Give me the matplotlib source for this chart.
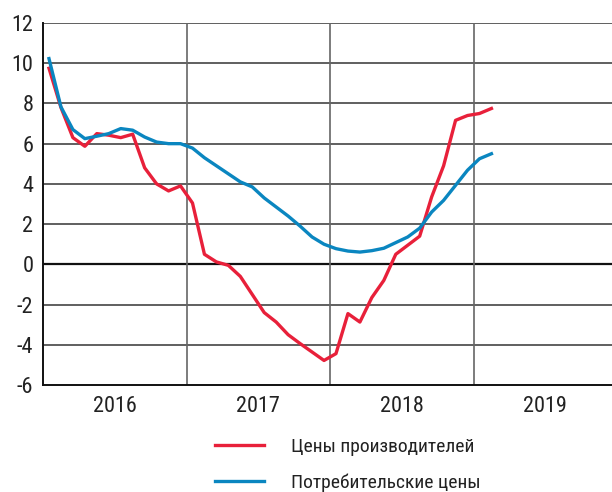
import numpy as np
import matplotlib
matplotlib.use('Agg')
import matplotlib.pyplot as plt
from matplotlib import font_manager

# monthly data, Jan 2016 .. Feb 2019
producer = [9.75, 7.8, 6.3, 5.87, 6.5, 6.42, 6.3, 6.47, 4.8, 4.0, 3.65, 3.9,
            3.05, 0.5, 0.12, -0.05, -0.6, -1.5, -2.4, -2.87, -3.5, -3.94, -4.36, -4.78,
            -4.44, -2.45, -2.87, -1.65, -0.8, 0.5, 0.95, 1.4, 3.35, 4.9, 7.16, 7.4,
            7.5, 7.75]
consumer = [10.23, 7.83, 6.7, 6.25, 6.37, 6.5, 6.75, 6.67, 6.33, 6.08, 6.0, 6.0,
            5.78, 5.3, 4.9, 4.5, 4.1, 3.85, 3.3, 2.85, 2.4, 1.9, 1.36, 1.0,
            0.78, 0.66, 0.61, 0.68, 0.8, 1.08, 1.36, 1.8, 2.6, 3.18, 3.93, 4.68,
            5.25, 5.5]
years = [2016, 2017, 2018, 2019]
labels = ['Цены производителей', 'Потребительские цены']

names = {f.name for f in font_manager.fontManager.ttflist}
fam = 'Liberation Sans'
for cand in ['Liberation Sans Narrow', 'DejaVu Sans Condensed', 'Roboto Condensed']:
    if cand in names:
        fam = cand
        break
plt.rcParams['font.family'] = [fam, 'DejaVu Sans']
plt.rcParams['axes.unicode_minus'] = False

x = 2016 + (np.arange(len(producer)) + 0.5) / 12

fig = plt.figure(figsize=(6.12, 4.92), dpi=100)
ax = fig.add_axes([43 / 612, 1 - 385 / 492, 1 - 43 / 612, (385 - 23) / 492])

for v in range(-4, 13, 2):
    if v == 0:
        continue
    ax.axhline(v, color='#444444', lw=1.2, zorder=1)
ax.axhline(0, color='#111111', lw=1.6, zorder=1)
for yr in years[1:]:
    ax.axvline(yr, color='#666666', lw=1.2, zorder=1)

ax.plot(x, producer, color='#e8203a', lw=2.4, zorder=3, label=labels[0])
ax.plot(x, consumer, color='#0a86c0', lw=2.4, zorder=4, label=labels[1])

ax.set_xlim(2016, 2016 + (612 - 43) / 143.5)
ax.set_ylim(-6, 12)
ax.set_yticks(range(-6, 13, 2))
ax.set_xticks([y + 0.5 for y in years])
ax.set_xticklabels([str(y) for y in years])
ax.tick_params(length=0, labelsize=16, colors='#222222')
ax.tick_params(axis='y', pad=7)
ax.tick_params(axis='x', pad=8)
for s in ['top', 'right']:
    ax.spines[s].set_visible(False)
for s in ['left', 'bottom']:
    ax.spines[s].set_color('#111111')
    ax.spines[s].set_linewidth(1.4)

h, l = ax.get_legend_handles_labels()
fig.legend(h, l, loc='upper left', bbox_to_anchor=(215 / 612, 1 - 438 / 492),
           frameon=False, fontsize=14, handlelength=2.5, handletextpad=1.4,
           labelspacing=0.9, borderpad=0, borderaxespad=0, labelcolor='#222222')

fig.savefig('out.png', dpi=100)
